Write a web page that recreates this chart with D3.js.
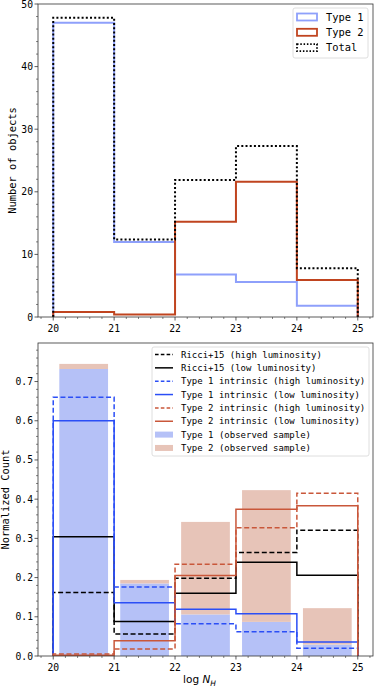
<!DOCTYPE html>
<html><head><meta charset="utf-8">
<script src="https://cdn.jsdelivr.net/npm/d3@7"></script>
<style>
body{margin:0;background:#fff;}
svg{display:block;}
text{font-family:"DejaVu Sans Mono",monospace;fill:#000;}
</style></head>
<body>
<svg id="chart" width="374" height="686"></svg>
<script>
// ---------- data ----------
const binEdges = [20, 21, 22, 23, 24, 25];
const xTicks = [20, 21, 22, 23, 24, 25];

// top panel: number of objects per bin
const type1Counts = [47.0, 12.0, 6.8, 5.6, 1.8];
const type2Counts = [0.8, 0.4, 15.2, 21.6, 5.9];
const totalCounts = [47.8, 12.4, 21.9, 27.3, 7.8];
const topYTicks = [0, 10, 20, 30, 40, 50];

// bottom panel: normalized counts
const ricciHigh = [0.162, 0.056, 0.198, 0.264, 0.321];
const ricciLow = [0.304, 0.088, 0.160, 0.239, 0.206];
const type1High = [0.660, 0.176, 0.082, 0.062, 0.020];
const type1Low = [0.600, 0.136, 0.119, 0.108, 0.036];
const type2High = [0.005, 0.018, 0.234, 0.327, 0.415];
const type2Low = [0.002, 0.039, 0.205, 0.374, 0.383];
const type1Observed = [0.732, 0.185, 0.106, 0.087, 0.029];
const type2Observed = [0.013, 0.009, 0.236, 0.336, 0.093];
const bottomYTicks = [0, 0.1, 0.2, 0.3, 0.4, 0.5, 0.6, 0.7];

const topLegendLabels = ["Type 1", "Type 2", "Total"];
const bottomLegendLabels = [
  "Ricci+15 (high luminosity)",
  "Ricci+15 (low luminosity)",
  "Type 1 intrinsic (high luminosity)",
  "Type 1 intrinsic (low luminosity)",
  "Type 2 intrinsic (high luminosity)",
  "Type 2 intrinsic (low luminosity)",
  "Type 1 (observed sample)",
  "Type 2 (observed sample)"
];

// ---------- styles ----------
const C_T1_TOP = "#8ea0fb";
const C_T2_TOP = "#c0441f";
const C_BLUE = "#2b4ef6";
const C_RED = "#c9573a";
const C_BAR1 = "#b5c1f7";
const C_BAR2 = "#e7c4b8";
const FRAME = "#333";
const TICK_FS = 9.7;
const LABEL_FS = 10.4;

const svg = d3.select("#chart");

function stepPoints(vals){
  const pts = [[binEdges[0], 0]];
  vals.forEach((v, i) => { pts.push([binEdges[i], v]); pts.push([binEdges[i+1], v]); });
  pts.push([binEdges[binEdges.length-1], 0]);
  return pts;
}

function drawAxes(g, x, y, yTicks, yMinorStep, yFmt, top, bottom, left, right){
  const xMinor = d3.range(19.8, 25.21, 0.2).filter(v => Math.abs(v - Math.round(v)) > 1e-6);
  const yMinor = d3.range(0, y.domain()[1] + 1e-9, yMinorStep).filter(v => !yTicks.some(t => Math.abs(t - v) < 1e-9));
  const ax = g.append("g").attr("stroke", FRAME);
  xMinor.forEach(v => ax.append("line").attr("x1", x(v)).attr("x2", x(v)).attr("y1", bottom).attr("y2", bottom + 2).attr("stroke-width", 0.6));
  xTicks.forEach(v => ax.append("line").attr("x1", x(v)).attr("x2", x(v)).attr("y1", bottom).attr("y2", bottom + 3.5).attr("stroke-width", 0.8));
  yMinor.forEach(v => ax.append("line").attr("x1", left - 2).attr("x2", left).attr("y1", y(v)).attr("y2", y(v)).attr("stroke-width", 0.6));
  yTicks.forEach(v => ax.append("line").attr("x1", left - 3.5).attr("x2", left).attr("y1", y(v)).attr("y2", y(v)).attr("stroke-width", 0.8));
  const lab = g.append("g").attr("font-size", TICK_FS);
  xTicks.forEach(v => lab.append("text").attr("x", x(v)).attr("y", bottom + 14.5).attr("text-anchor", "middle").text(v));
  yTicks.forEach(v => lab.append("text").attr("x", left - 5).attr("y", y(v) + 3.5).attr("text-anchor", "end").text(yFmt(v)));
}

function frame(g, top, bottom, left, right){
  g.append("rect").attr("x", left).attr("y", top).attr("width", right - left).attr("height", bottom - top)
    .attr("fill", "none").attr("stroke", FRAME).attr("stroke-width", 0.8);
}

// ---------- top panel ----------
{
  const L = 38, R = 373, T = 4, B = 317;
  const x = d3.scaleLinear().domain([19.75, 25.25]).range([L, R]);
  const y = d3.scaleLinear().domain([0, 50]).range([B, T]);
  const g = svg.append("g");
  const line = d3.line().x(d => x(d[0])).y(d => y(d[1]));
  g.append("path").attr("d", line(stepPoints(type1Counts))).attr("fill", "none").attr("stroke", C_T1_TOP).attr("stroke-width", 2);
  g.append("path").attr("d", line(stepPoints(type2Counts))).attr("fill", "none").attr("stroke", C_T2_TOP).attr("stroke-width", 2);
  g.append("path").attr("d", line(stepPoints(totalCounts))).attr("fill", "none").attr("stroke", "#000").attr("stroke-width", 2).attr("stroke-dasharray", "2,2.2");
  frame(g, T, B, L, R);
  drawAxes(g, x, y, topYTicks, 2, d => d, T, B, L, R);
  g.append("text").attr("transform", `translate(${15.5},${(T+B)/2}) rotate(-90)`).attr("text-anchor", "middle").attr("font-size", LABEL_FS).text("Number of objects");

  // legend
  const lg = g.append("g");
  lg.append("rect").attr("x", 293).attr("y", 8).attr("width", 75).attr("height", 50).attr("rx", 2)
    .attr("fill", "#fff").attr("fill-opacity", 0.8).attr("stroke", "#d5d5d5").attr("stroke-width", 0.8);
  const styles = [
    {stroke: C_T1_TOP, dash: null},
    {stroke: C_T2_TOP, dash: null},
    {stroke: "#000", dash: "1.5,1.8"}
  ];
  topLegendLabels.forEach((t, i) => {
    const cy = 17 + i * 15.3;
    lg.append("rect").attr("x", 297).attr("y", cy - 3.5).attr("width", 20).attr("height", 7)
      .attr("fill", "none").attr("stroke", styles[i].stroke).attr("stroke-width", 1.8)
      .attr("stroke-dasharray", styles[i].dash);
    lg.append("text").attr("x", 326).attr("y", cy + 3.7).attr("font-size", LABEL_FS).text(t);
  });
}

// ---------- bottom panel ----------
{
  const L = 38, R = 373, T = 343, B = 656;
  const x = d3.scaleLinear().domain([19.75, 25.25]).range([L, R]);
  const y = d3.scaleLinear().domain([0, 0.7983]).range([B, T]);
  const g = svg.append("g");

  // stacked observed bars
  const rows = type1Observed.map((v, i) => ({edge: binEdges[i], t1: v, t2: type2Observed[i]}));
  const stacked = d3.stack().keys(["t1", "t2"])(rows);
  const barColors = [C_BAR1, C_BAR2];
  stacked.forEach((layer, k) => {
    g.append("g").selectAll("rect").data(layer).join("rect")
      .attr("x", d => x(d.data.edge + 0.1))
      .attr("width", d => x(d.data.edge + 0.9) - x(d.data.edge + 0.1))
      .attr("y", d => y(d[1]))
      .attr("height", d => y(d[0]) - y(d[1]))
      .attr("fill", barColors[k]);
  });

  const line = d3.line().x(d => x(d[0])).y(d => y(d[1]));
  const series = [
    {vals: ricciHigh, color: "#000", dash: "5,2.6"},
    {vals: ricciLow, color: "#000", dash: null},
    {vals: type1High, color: C_BLUE, dash: "5,2.6"},
    {vals: type1Low, color: C_BLUE, dash: null},
    {vals: type2High, color: C_RED, dash: "5,2.6"},
    {vals: type2Low, color: C_RED, dash: null}
  ];
  series.forEach(s => {
    g.append("path").attr("d", line(stepPoints(s.vals))).attr("fill", "none")
      .attr("stroke", s.color).attr("stroke-width", 1.5).attr("stroke-dasharray", s.dash);
  });

  frame(g, T, B, L, R);
  drawAxes(g, x, y, bottomYTicks, 0.02, d => d.toFixed(1), T, B, L, R);
  g.append("text").attr("transform", `translate(${9},${(T+B)/2}) rotate(-90)`).attr("text-anchor", "middle").attr("font-size", LABEL_FS).text("Normalized Count");
  const xl = g.append("text").attr("x", (L+R)/2 - 6).attr("y", 683).attr("text-anchor", "middle")
    .attr("font-size", 10.5).style("font-family", "'DejaVu Sans',sans-serif");
  xl.append("tspan").text("log ");
  xl.append("tspan").attr("font-style", "italic").text("N");
  xl.append("tspan").attr("font-style", "italic").attr("font-size", 7.5).attr("dy", 2.5).text("H");

  // legend
  const lg = g.append("g");
  lg.append("rect").attr("x", 152).attr("y", 347).attr("width", 217).attr("height", 109).attr("rx", 2)
    .attr("fill", "#fff").attr("fill-opacity", 0.8).attr("stroke", "#d5d5d5").attr("stroke-width", 0.8);
  bottomLegendLabels.forEach((t, i) => {
    const cy = 354.5 + i * 13.35;
    if (i < 6) {
      const s = series[i];
      lg.append("line").attr("x1", 155).attr("x2", 173).attr("y1", cy).attr("y2", cy)
        .attr("stroke", s.color).attr("stroke-width", 1.5).attr("stroke-dasharray", s.dash ? "3.6,2.2" : null);
    } else {
      lg.append("rect").attr("x", 155).attr("y", cy - 3).attr("width", 18).attr("height", 6).attr("fill", barColors[i - 6]);
    }
    lg.append("text").attr("x", 181).attr("y", cy + 3.2).attr("font-size", 9.0).text(t);
  });
}
</script>
</body></html>
